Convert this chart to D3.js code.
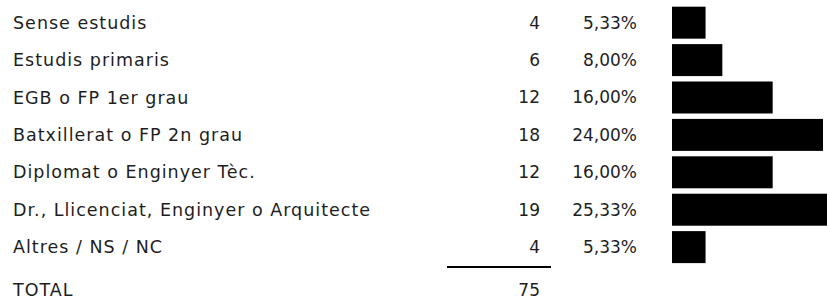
<!DOCTYPE html>
<html>
<head>
<meta charset="utf-8">
<script src="https://cdn.jsdelivr.net/npm/d3@7"></script>
<style>
  body { margin: 0; background: #fff; }
  text { font-family: "DejaVu Sans", sans-serif; fill: #1e1e1e; }
  .label { font-size: 17.5px; letter-spacing: 1px; }
  .num { font-size: 17px; text-anchor: end; }
</style>
</head>
<body>
<div id="chart"></div>
<script>
// Nivell d'estudis
const categories = [
    "Sense estudis",
    "Estudis primaris",
    "EGB o FP 1er grau",
    "Batxillerat o FP 2n grau",
    "Diplomat o Enginyer Tèc.",
    "Dr., Llicenciat, Enginyer o Arquitecte",
    "Altres / NS / NC"
];
const counts = [4, 6, 12, 18, 12, 19, 4];
const totalLabel = "TOTAL";

const width = 827, height = 300;
const total = d3.sum(counts);

const ca = d3.formatLocale({ decimal: ",", thousands: ".", grouping: [3], currency: ["", "€"] });
const pct = ca.format(".2%");

const svg = d3.select("#chart")
    .append("svg")
    .attr("width", width)
    .attr("height", height);

// rows
const yScale = d3.scaleBand()
    .domain(categories)
    .range([6.7, 263.1])
    .paddingInner(0.145)
    .paddingOuter(0);

// bar lengths
const xScale = d3.scaleLinear()
    .domain([0, 18])
    .range([672, 823]);

const rows = svg.selectAll(".row")
    .data(categories.map((c, i) => ({ label: c, value: counts[i] })))
    .enter()
    .append("g")
    .attr("class", "row");

const midY = d => yScale(d.label) + yScale.bandwidth() / 2;

rows.append("text")
    .attr("class", "label")
    .attr("x", 13)
    .attr("y", midY)
    .attr("dy", "0.35em")
    .text(d => d.label);

rows.append("text")
    .attr("class", "num")
    .attr("x", 540)
    .attr("y", midY)
    .attr("dy", "0.35em")
    .text(d => d.value);

rows.append("text")
    .attr("class", "num")
    .attr("x", 637)
    .attr("y", midY)
    .attr("dy", "0.35em")
    .text(d => pct(d.value / total));

rows.append("rect")
    .attr("x", xScale(0))
    .attr("y", d => yScale(d.label))
    .attr("width", d => xScale(d.value) - xScale(0))
    .attr("height", yScale.bandwidth())
    .attr("fill", "#000");

// total
svg.append("line")
    .attr("x1", 447)
    .attr("x2", 551)
    .attr("y1", 267)
    .attr("y2", 267)
    .attr("stroke", "#000")
    .attr("stroke-width", 2);

svg.append("text")
    .attr("class", "label")
    .attr("x", 13)
    .attr("y", 296)
    .text(totalLabel);

svg.append("text")
    .attr("class", "num")
    .attr("x", 540)
    .attr("y", 296)
    .text(total);
</script>
</body>
</html>
